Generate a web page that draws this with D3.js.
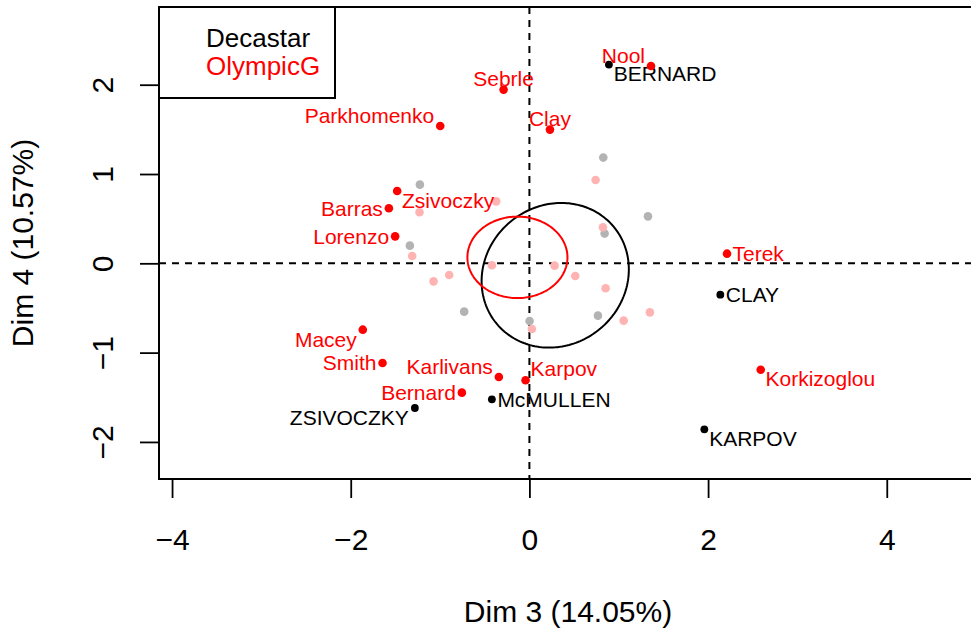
<!DOCTYPE html>
<html>
<head>
<meta charset="utf-8">
<script src="https://cdn.jsdelivr.net/npm/d3@7"></script>
<style>
  html, body { margin: 0; padding: 0; background: #fff; }
  svg { display: block; font-family: "Liberation Sans", Arial, Helvetica, sans-serif; }
</style>
</head>
<body>
<svg id="chart" width="971" height="634"></svg>
<script>
// ---- data ----
const xTicks = [-4, -2, 0, 2, 4];
const yTicks = [-2, -1, 0, 1, 2];
const xTitle = "Dim 3 (14.05%)";
const yTitle = "Dim 4 (10.57%)";
const legendLabels = ["Decastar", "OlympicG"];

// labelled OlympicG athletes
const olyNames = ["Sebrle", "Parkhomenko", "Zsivoczky", "Barras", "Lorenzo", "Nool", "Clay",
                  "Terek", "Karpov", "Korkizoglou", "Macey", "Smith", "Karlivans", "Bernard"];
const olyX = [-0.289, -0.998, -1.480, -1.573, -1.503, 1.361, 0.230,
              2.212, -0.043, 2.589, -1.865, -1.644, -0.342, -0.756];
const olyY = [1.945, 1.538, 0.809, 0.616, 0.302, 2.209, 1.497,
              0.108, -1.310, -1.191, -0.743, -1.116, -1.273, -1.448];
const olyLab = ["t", "tl", "br", "l", "l", "tl", "t", "r", "tr", "br", "bl", "l", "tl", "l"];

// labelled Decastar athletes
const decNames = ["BERNARD", "CLAY", "McMULLEN", "KARPOV", "ZSIVOCZKY"];
const decX = [0.890, 2.137, -0.420, 1.958, -1.282];
const decY = [2.225, -0.351, -1.523, -1.859, -1.620];
const decLab = ["br", "r", "r", "br", "bl"];

// unlabelled Decastar athletes (faded)
const decOtherX = [0.827, -1.226, 1.327, 0.842, -1.338, -0.730, 0.002, 0.767];
const decOtherY = [1.184, 0.881, 0.526, 0.333, 0.198, -0.541, -0.646, -0.586];

// unlabelled OlympicG athletes (faded)
const olyOtherX = [0.741, -1.230, -0.372, 0.823, -1.312, -0.420, 0.282, -0.898, -1.073, 0.513, 0.853, 1.349, 1.055, 0.028];
const olyOtherY = [0.933, 0.571, 0.694, 0.403, 0.082, -0.022, -0.026, -0.131, -0.202, -0.142, -0.280, -0.549, -0.642, -0.736];

// confidence ellipses: centre, x-radius, y-radius, xy-coupling (data units)
const ellDec = { cx: 0.289, cy: -0.134, a11: 0.824, a21: 0.067, a22: 0.807 };
const ellOly = { cx: -0.134, cy: 0.067, a11: 0.560, a21: 0.0, a22: 0.456 };

// ---- drawing ----
const svg = d3.select("#chart");
const x = d3.scaleLinear().domain([-4.146, 5.01]).range([159, 977]);
const y = d3.scaleLinear().domain([-2.415, 2.870]).range([479, 7]);

const RED = "#FF0000", BLACK = "#000000";
const PINK = "#FFB3B3", GREY = "#B3B3B3";

// axes
const gx = svg.append("g").attr("transform", `translate(0,${y.range()[0]})`)
  .call(d3.axisBottom(x).tickValues(xTicks).tickSize(19).tickFormat(d3.format("d")));
gx.select(".domain").remove();
gx.selectAll(".tick line").attr("stroke", BLACK).attr("stroke-width", 1.8);
gx.selectAll(".tick text").attr("y", 70.5).attr("dy", null)
  .attr("font-size", 30).attr("fill", BLACK)
  .attr("font-family", "Liberation Sans, Arial, sans-serif");

const gy = svg.append("g").attr("transform", `translate(${x.range()[0]},0)`)
  .call(d3.axisLeft(y).tickValues(yTicks).tickSize(19).tickFormat(d3.format("d")));
gy.select(".domain").remove();
gy.selectAll(".tick line").attr("stroke", BLACK).attr("stroke-width", 1.8);
gy.selectAll(".tick text")
  .attr("x", 0).attr("y", -45.7).attr("dy", null)
  .attr("text-anchor", "middle")
  .attr("transform", "rotate(-90)")
  .attr("font-size", 30).attr("fill", BLACK)
  .attr("font-family", "Liberation Sans, Arial, sans-serif");

// axis titles
svg.append("text").attr("x", (x.range()[0] + x.range()[1]) / 2).attr("y", 622)
  .attr("text-anchor", "middle").attr("font-size", 30).text(xTitle);
svg.append("text").attr("transform", `translate(33.3,${(y.range()[0] + y.range()[1]) / 2}) rotate(-90)`)
  .attr("text-anchor", "middle").attr("font-size", 30).text(yTitle);

// clip for plot region
svg.append("clipPath").attr("id", "clip").append("rect")
  .attr("x", x.range()[0]).attr("y", y.range()[1])
  .attr("width", x.range()[1] - x.range()[0]).attr("height", y.range()[0] - y.range()[1]);
const plot = svg.append("g").attr("clip-path", "url(#clip)");

// dashed reference lines
plot.append("line").attr("x1", x.range()[0]).attr("x2", x.range()[1])
  .attr("y1", y(0)).attr("y2", y(0))
  .attr("stroke", BLACK).attr("stroke-width", 2).attr("stroke-dasharray", "7,6");
plot.append("line").attr("x1", x(0)).attr("x2", x(0))
  .attr("y1", y.range()[1]).attr("y2", y.range()[0])
  .attr("stroke", BLACK).attr("stroke-width", 2).attr("stroke-dasharray", "7,6");

// ellipses
function ellipsePts(e) {
  return d3.range(0, 201).map(i => {
    const t = i / 200 * 2 * Math.PI;
    return [e.cx + e.a11 * Math.cos(t), e.cy + e.a21 * Math.cos(t) + e.a22 * Math.sin(t)];
  });
}
const line = d3.line().x(d => x(d[0])).y(d => y(d[1]));
plot.append("path").attr("d", line(ellipsePts(ellDec)))
  .attr("fill", "none").attr("stroke", BLACK).attr("stroke-width", 2);
plot.append("path").attr("d", line(ellipsePts(ellOly)))
  .attr("fill", "none").attr("stroke", RED).attr("stroke-width", 2);

// faded points
plot.selectAll("circle.dg").data(d3.zip(decOtherX, decOtherY)).join("circle")
  .attr("class", "dg").attr("cx", d => x(d[0])).attr("cy", d => y(d[1]))
  .attr("r", 4.3).attr("fill", GREY);
plot.selectAll("circle.op").data(d3.zip(olyOtherX, olyOtherY)).join("circle")
  .attr("class", "op").attr("cx", d => x(d[0])).attr("cy", d => y(d[1]))
  .attr("r", 4.3).attr("fill", PINK);

// labelled points
const offsets = {
  l:  { dx: -6, dy: 7.5, anchor: "end" },
  r:  { dx: 5.5, dy: 7.5, anchor: "start" },
  t:  { dx: 0, dy: -4, anchor: "middle" },
  tl: { dx: -6, dy: -3, anchor: "end" },
  tr: { dx: 5, dy: -4.5, anchor: "start" },
  bl: { dx: -6, dy: 17, anchor: "end" },
  br: { dx: 4.8, dy: 16.5, anchor: "start" }
};
function drawLabelled(names, xs, ys, labs, col, r) {
  const data = names.map((n, i) => ({ n, x: xs[i], y: ys[i], p: labs[i] }));
  plot.append("g").selectAll("circle").data(data).join("circle")
    .attr("cx", d => x(d.x)).attr("cy", d => y(d.y)).attr("r", r).attr("fill", col);
  plot.append("g").selectAll("text").data(data).join("text")
    .attr("x", d => x(d.x) + offsets[d.p].dx)
    .attr("y", d => y(d.y) + offsets[d.p].dy)
    .attr("text-anchor", d => offsets[d.p].anchor)
    .attr("font-size", 21).attr("fill", col).text(d => d.n);
}
drawLabelled(decNames, decX, decY, decLab, BLACK, 3.9);
drawLabelled(olyNames, olyX, olyY, olyLab, RED, 4.3);

// plot box
svg.append("rect").attr("x", x.range()[0]).attr("y", y.range()[1])
  .attr("width", x.range()[1] - x.range()[0]).attr("height", y.range()[0] - y.range()[1])
  .attr("fill", "none").attr("stroke", BLACK).attr("stroke-width", 2);

// legend
const lg = svg.append("g");
lg.append("rect").attr("x", x.range()[0]).attr("y", y.range()[1])
  .attr("width", 176).attr("height", 91)
  .attr("fill", "#fff").attr("stroke", BLACK).attr("stroke-width", 2);
lg.selectAll("text").data(legendLabels).join("text")
  .attr("x", 206).attr("y", (d, i) => 47 + i * 28)
  .attr("font-size", 26).attr("fill", (d, i) => i === 0 ? BLACK : RED)
  .text(d => d);
</script>
</body>
</html>
